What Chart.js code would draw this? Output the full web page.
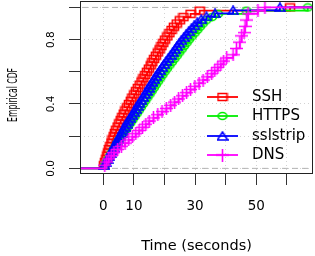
<!DOCTYPE html>
<html>
<head>
<meta charset="utf-8">
<script src="https://cdn.jsdelivr.net/npm/chart.js@4.4.1/dist/chart.umd.min.js"></script>
<style>
html, body { margin: 0; padding: 0; background: #fff; }
</style>
</head>
<body>
<canvas id="cdf" width="315" height="256"></canvas>
<script>
// ---------------- DONNEES (temps en secondes) ----------------
const sshTimes = [0.2, 0.6, 1.0, 1.3, 1.6, 1.9, 2.3, 2.7, 3.0, 3.4, 3.8, 4.2, 4.7, 5.2, 5.7,
    6.2, 6.7, 7.2, 7.8, 8.4, 9.0, 9.5, 10.1, 10.7, 11.3, 11.9, 12.5, 13.1, 13.7, 14.3,
    14.9, 15.5, 16.0, 16.6, 17.2, 17.8, 18.4, 19.0, 19.6, 20.2, 20.9, 21.6, 22.3, 23.1,
    24.0, 25.0, 26.2, 28.5, 31.5, 61.0];
const httpsTimes = [0.5, 1.1, 1.7, 2.3, 2.9, 3.5, 4.1, 4.7, 5.3, 6.0, 6.7, 7.4, 8.1, 8.8,
    9.5, 10.2, 10.9, 11.6, 12.3, 13.0, 13.7, 14.4, 15.1, 15.8, 16.5, 17.2, 17.9, 18.6,
    19.3, 20.0, 20.8, 21.6, 22.4, 23.2, 24.0, 24.8, 25.6, 26.4, 27.2, 28.0, 28.9, 29.8,
    30.7, 31.6, 32.5, 33.6, 35.5, 37.5, 46.8, 66.8];
const sslstripTimes = [0.4, 0.9, 1.4, 1.9, 2.4, 2.9, 3.4, 3.9, 4.4, 4.9, 5.5, 6.0, 6.5, 7.0,
    7.6, 8.2, 8.8, 9.4, 10.0, 10.6, 11.2, 11.8, 12.4, 13.0, 13.6, 14.2, 14.8, 15.4, 16.0,
    16.6, 17.2, 17.8, 18.5, 19.2, 19.9, 20.6, 21.3, 22.0, 22.7, 23.4, 24.1, 24.8, 25.5,
    26.3, 27.1, 27.9, 28.8, 29.7, 30.7, 32.0, 33.7, 36.5, 42.4, 57.7];
const dnsTimes = [0.5, 1.1, 1.8, 2.6, 3.5, 4.7, 5.9, 7.1, 8.3, 9.5, 10.6, 11.7, 12.8, 13.9,
    15.0, 16.4, 17.8, 19.2, 20.6, 22.0, 23.3, 24.6, 25.9, 27.2, 28.5, 29.9, 31.3, 32.6,
    34.0, 35.4, 36.4, 37.4, 38.4, 39.3, 40.3, 42.4, 43.5, 43.5, 44.6, 44.6, 45.2, 45.2,
    46.0, 46.3, 46.3, 46.8, 46.8, 47.3, 47.3, 50.5, 52.8];

const seriesNames = ["SSH", "HTTPS", "sslstrip", "DNS"];
const seriesColors = ["#ff0000", "#00ee00", "#0000ff", "#ff00ff"];
const seriesShapes = ["square", "circle", "triangle", "plus"];
const seriesTimes = [sshTimes, httpsTimes, sslstripTimes, dnsTimes];

const xTicks = [0, 10, 20, 30, 40, 50, 60];
const xTickLabels = ["0", "10", "", "30", "", "50", ""];
const yTicks = [0, 0.2, 0.4, 0.6, 0.8, 1.0];
const yTickLabels = ["0.0", "", "0.4", "", "0.8", ""];
const xTitle = "Time (seconds)";
const yTitle = "Empirical CDF";

const FONT = "'DejaVu Sans', sans-serif";

// ---------------- MARQUEURS ----------------
function makeMarker(shape, color) {
    const c = document.createElement("canvas");
    const big = shape === "plus";
    c.width = big ? 13 : 12;
    c.height = big ? 13 : 10;
    const g = c.getContext("2d");
    g.strokeStyle = color;
    g.lineWidth = 1.6;
    g.beginPath();
    if (shape === "square") g.rect(1.5, 1.5, 9, 7);
    else if (shape === "circle") g.ellipse(6, 5, 4.4, 3.5, 0, 0, Math.PI * 2);
    else if (shape === "triangle") { g.moveTo(6, 1); g.lineTo(11.2, 9); g.lineTo(0.8, 9); g.closePath(); }
    else { g.moveTo(0, 6.5); g.lineTo(13, 6.5); g.moveTo(6.5, 0); g.lineTo(6.5, 13); }
    g.stroke();
    return c;
}
const markers = seriesShapes.map((s, i) => makeMarker(s, seriesColors[i]));

// ecdf : une marche par valeur distincte
function ecdf(times) {
    const n = times.length;
    const pts = [{ x: -20, y: 0 }];
    const sorted = [...times].sort((a, b) => a - b);
    for (let i = 0; i < n; i++) {
        if (i < n - 1 && sorted[i + 1] === sorted[i]) continue;
        pts.push({ x: sorted[i], y: (i + 1) / n, m: true });
    }
    pts.push({ x: 100, y: 1 });
    return pts;
}

const datasets = seriesNames.map((name, i) => ({
    label: name,
    data: ecdf(seriesTimes[i]),
    borderColor: seriesColors[i],
    backgroundColor: seriesColors[i],
    borderWidth: 1.8,
    stepped: true,
    fill: false,
    pointStyle: markers[i],
    pointRadius: c => (c.raw && c.raw.m) ? 5 : 0,
    order: 4 - i
}));

// lignes grises pointillees a 0 et 1
[0, 1].forEach(v => datasets.push({
    label: "",
    data: [{ x: -20, y: v }, { x: 100, y: v }],
    borderColor: "#b3b3b3",
    borderWidth: 1,
    borderDash: [6, 4],
    pointRadius: 0,
    order: 10
}));

// ---------------- PLUGINS ----------------
const boxPlugin = {
    id: "box",
    afterDatasetsDraw(chart) {
        const a = chart.chartArea, ctx = chart.ctx;
        ctx.save();
        ctx.strokeStyle = "#222";
        ctx.lineWidth = 1;
        ctx.strokeRect(Math.round(a.left) + 0.5, Math.round(a.top) + 0.5,
            Math.round(a.right - a.left) - 1, Math.round(a.bottom - a.top) - 1);
        ctx.restore();
    }
};

const legendPlugin = {
    id: "legendBox",
    afterDraw(chart) {
        const ctx = chart.ctx;
        const rowY = [97, 116, 136, 155];
        ctx.save();
        ctx.font = "15px " + FONT;
        ctx.textBaseline = "middle";
        ctx.fillStyle = "#000";
        seriesNames.forEach((name, i) => {
            const y = rowY[i];
            ctx.strokeStyle = seriesColors[i];
            ctx.lineWidth = 1.8;
            ctx.beginPath();
            ctx.moveTo(207, y);
            ctx.lineTo(238, y);
            ctx.stroke();
            const m = markers[i];
            ctx.drawImage(m, 222.5 - m.width / 2, y - m.height / 2);
            ctx.fillText(name, 252, y);
        });
        ctx.restore();
    }
};

const yTitlePlugin = {
    id: "yTitle",
    afterDraw(chart) {
        const ctx = chart.ctx;
        ctx.save();
        ctx.translate(13.5, 95);
        ctx.rotate(-Math.PI / 2);
        ctx.scale(0.55, 1);
        ctx.font = "14px " + FONT;
        ctx.fillStyle = "#000";
        ctx.textAlign = "center";
        ctx.textBaseline = "middle";
        ctx.fillText(yTitle, 0, 0);
        ctx.restore();
    }
};

// ---------------- GRAPHIQUE ----------------
const chart = new Chart(document.getElementById("cdf").getContext("2d"), {
    type: "line",
    data: { datasets },
    options: {
        responsive: false,
        animation: false,
        devicePixelRatio: 1,
        events: [],
        layout: { padding: { top: 1, right: 2, left: 0, bottom: 0 } },
        plugins: { legend: { display: false }, tooltip: { enabled: false } },
        scales: {
            x: {
                type: "linear",
                min: -7.6,
                max: 68.5,
                afterBuildTicks: s => { s.ticks = xTicks.map(v => ({ value: v })); },
                afterFit: s => { s.height = 82; s.paddingLeft = 0; s.paddingRight = 0; },
                ticks: {
                    autoSkip: false,
                    maxRotation: 0,
                    padding: 13,
                    color: "#000",
                    font: { family: FONT, size: 13.5 },
                    callback: (v, i) => xTickLabels[i]
                },
                grid: { color: "#d3d3d3", tickColor: "#333", tickLength: 11, tickBorderDash: [] },
                border: { display: false, dash: [1, 3] },
                title: {
                    display: true,
                    text: xTitle,
                    color: "#000",
                    font: { family: FONT, size: 14.5 },
                    padding: { top: 0, bottom: 1 }
                }
            },
            y: {
                type: "linear",
                min: -0.035,
                max: 1.04,
                afterBuildTicks: s => { s.ticks = yTicks.map(v => ({ value: v })); },
                afterFit: s => { s.width = 80; s.paddingTop = 0; s.paddingBottom = 0; },
                ticks: {
                    autoSkip: false,
                    minRotation: 90,
                    maxRotation: 90,
                    crossAlign: "center",
                    padding: 9,
                    color: "#000",
                    font: { family: FONT, size: 10.5 },
                    callback: (v, i) => yTickLabels[i]
                },
                grid: { color: "#d3d3d3", tickColor: "#333", tickLength: 11, tickBorderDash: [] },
                border: { display: false, dash: [1, 3] }
            }
        }
    },
    plugins: [boxPlugin, legendPlugin, yTitlePlugin]
});
</script>
</body>
</html>
